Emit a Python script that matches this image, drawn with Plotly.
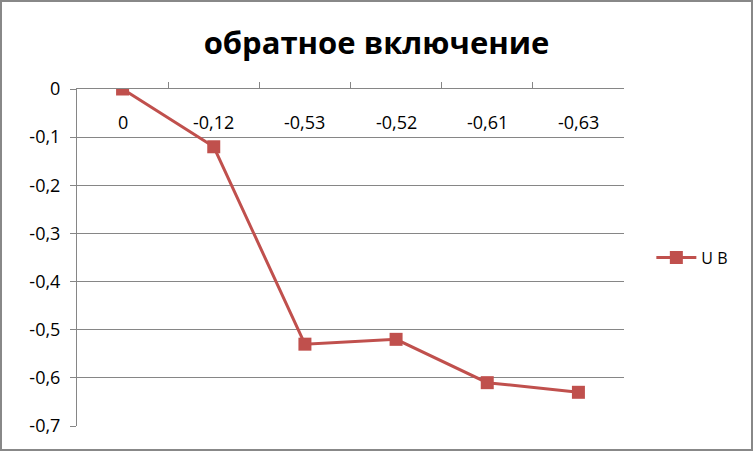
import plotly.graph_objects as go

categories = ["0", "-0,12", "-0,53", "-0,52", "-0,61", "-0,63"]
values = [0, -0.12, -0.53, -0.52, -0.61, -0.63]
y_tickvals = [0, -0.1, -0.2, -0.3, -0.4, -0.5, -0.6, -0.7]
y_ticktext = ["0", "-0,1", "-0,2", "-0,3", "-0,4", "-0,5", "-0,6", "-0,7"]
series_name = "U B"
title_text = "обратное включение"

W, H = 753, 451
L, R, T, B = 77, 129, 89, 25
pw, ph = W - L - R, H - T - B

color = "#C0504D"
grid = "#868686"
font = "Open Sans"

x_idx = list(range(len(categories)))

fig = go.Figure()
fig.add_trace(go.Scatter(
    x=x_idx, y=values, mode="lines+markers", name=series_name,
    line=dict(color=color, width=3),
    marker=dict(symbol="square", size=13, color=color),
))

for i, c in enumerate(categories):
    fig.add_annotation(x=i, y=0, xref="x", yref="y", text=c, showarrow=False,
                       yshift=-33, font=dict(family=font, size=18, color="#000"))

fig.add_shape(type="rect", xref="paper", yref="paper",
              x0=-(L - 1) / pw, x1=1 + (R - 1) / pw,
              y0=-(B - 1) / ph, y1=1 + (T - 1) / ph,
              line=dict(color="#888888", width=2))

fig.update_layout(
    width=W, height=H,
    margin=dict(l=L, r=R, t=T, b=B),
    paper_bgcolor="white", plot_bgcolor="white",
    title=dict(text=title_text, x=0.5, xanchor="center", y=1 - 43 / H, yanchor="middle",
               font=dict(family=font, size=31, color="#000", weight="bold")),
    showlegend=True,
    legend=dict(x=1.05, y=0.5, xanchor="left", yanchor="middle",
                font=dict(family=font, size=16, color="#000"),
                bgcolor="rgba(0,0,0,0)", itemwidth=40),
    xaxis=dict(range=[-0.5, len(categories) - 0.5], side="top",
               showgrid=False, zeroline=False, showline=True, linecolor=grid, linewidth=1,
               tickvals=[i + 0.5 for i in range(len(categories) - 1)],
               ticks="outside", ticklen=6, tickcolor=grid, showticklabels=False),
    yaxis=dict(range=[-0.7, 0], tickvals=y_tickvals, ticktext=y_ticktext,
               showgrid=True, gridcolor=grid, gridwidth=1, zeroline=False,
               showline=True, linecolor=grid, linewidth=1,
               ticks="outside", ticklen=6, tickcolor=grid, ticklabelstandoff=6,
               tickfont=dict(family=font, size=18, color="#000")),
)

fig.write_html("out.html", config={"displayModeBar": False},
               post_script="document.body.style.margin='0';document.body.style.overflow='hidden';")
